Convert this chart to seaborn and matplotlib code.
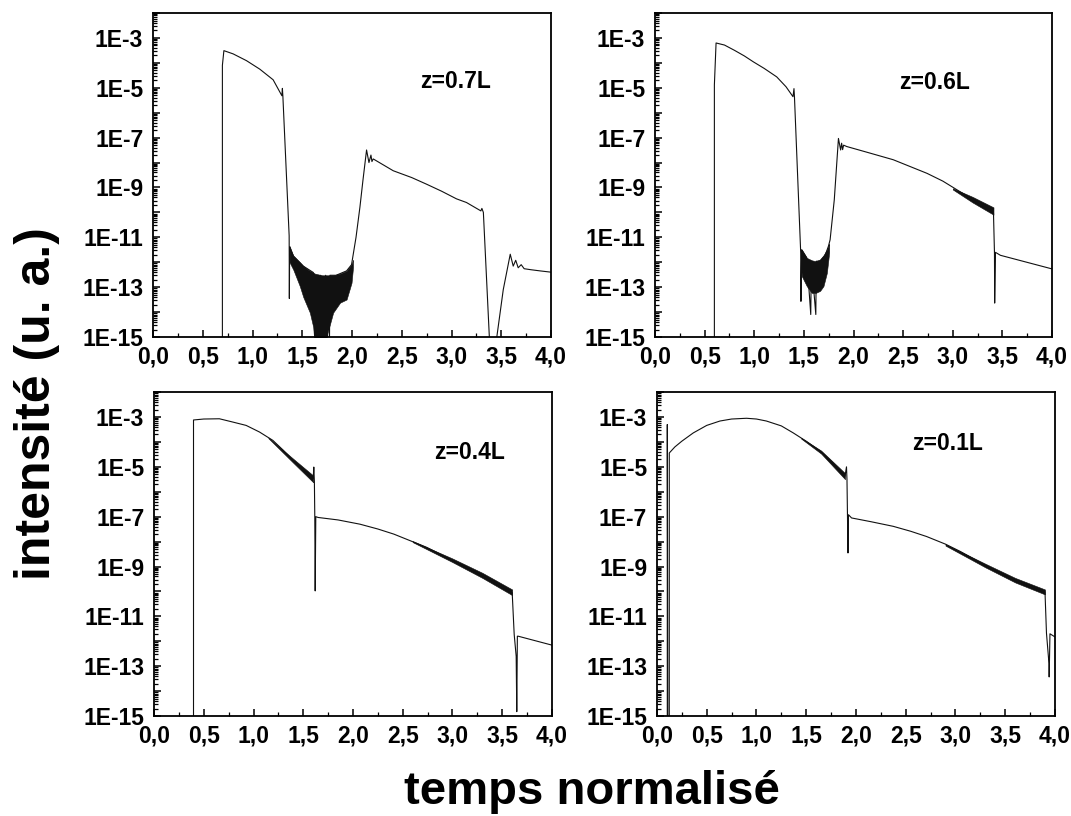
import numpy as np
import matplotlib
matplotlib.use("Agg")
import matplotlib.pyplot as plt
import seaborn as sns
from matplotlib.ticker import FixedLocator, LogLocator, NullFormatter

# ---------------- data ----------------
panel_labels = ["z=0.7L", "z=0.6L", "z=0.4L", "z=0.1L"]

# z = 0.7L
tA = [0.697, 0.697, 0.712, 0.805, 0.939, 1.073, 1.207, 1.295, 1.300, 1.305,
      1.368, 1.370, 1.373, 1.41, 1.51, 1.61, 1.636, 1.645, 1.676, 1.685,
      1.727, 1.735, 1.770, 1.778, 1.84, 1.945, 1.995, 2.04, 2.079, 2.11,
      2.146, 2.17, 2.19, 2.20, 2.213, 2.414, 2.6, 2.75, 2.9, 3.05,
      3.15, 3.295, 3.305, 3.32, 3.38, 3.42, 3.455, 3.52, 3.59, 3.62,
      3.645, 3.67, 3.70, 3.73, 3.80, 3.89, 4.0]
IA = [1e-17, 8e-5, 3.1e-4, 2.3e-4, 1.23e-4, 5.6e-5, 2.1e-5, 4.8e-6, 9.5e-6, 4.5e-6,
      1.15e-11, 3.5e-14, 4e-12, 1.8e-12, 7e-13, 3.9e-13, 1e-17, 3e-13, 1e-17, 3e-13,
      1e-17, 3e-13, 1e-17, 3e-13, 3e-13, 4.5e-13, 8e-13, 1e-11, 1.6e-10, 2e-9,
      3.2e-8, 1.0e-8, 2.0e-8, 1.1e-8, 1.4e-8, 4.7e-9, 2.5e-9, 1.35e-9, 7.1e-10, 3.5e-10,
      2.5e-10, 1.15e-10, 1.45e-10, 1.0e-10, 1e-15, 1e-17, 1e-15, 8e-14, 2.1e-12, 7e-13,
      1.2e-12, 6e-13, 8e-13, 5.5e-13, 5e-13, 4.5e-13, 4e-13]
bandA_t = [1.372, 1.41, 1.475, 1.51, 1.576, 1.61, 1.626, 1.70, 1.743, 1.81, 1.88, 1.945, 1.995, 2.01]
bandA_hi = [4.5e-12, 1.8e-12, 1.0e-12, 7.1e-13, 4.5e-13, 3.9e-13, 3.5e-13, 3.0e-13, 3.0e-13, 3.0e-13,
            3.5e-13, 4.5e-13, 8.3e-13, 1.26e-12]
bandA_lo = [1.0e-12, 5.0e-13, 1.1e-13, 4.0e-14, 9.5e-15, 2.5e-15, 3e-16, 3e-16, 1e-15, 9.5e-15,
            2.4e-14, 3.2e-14, 1.5e-13, 6.3e-13]

# z = 0.6L
tB = [0.598, 0.598, 0.615, 0.70, 0.80, 0.90, 0.991, 1.10, 1.226, 1.32,
      1.39, 1.40, 1.405, 1.468, 1.470, 1.478, 1.529, 1.569, 1.575, 1.620,
      1.625, 1.663, 1.714, 1.747, 1.764, 1.806, 1.848, 1.87, 1.88, 1.89,
      1.90, 1.932, 2.15, 2.40, 2.74, 2.9, 3.07, 3.25, 3.41, 3.42,
      3.422, 3.43, 3.48, 4.0]
IB = [1e-17, 1.3e-5, 6.3e-4, 5.2e-4, 3.2e-4, 1.9e-4, 1.1e-4, 6e-5, 2.75e-5, 1.1e-5,
      4.4e-6, 9.3e-6, 4.2e-6, 2.3e-12, 2.7e-14, 3.2e-12, 1.5e-12, 8e-15, 1.1e-12, 8e-15,
      1.1e-12, 1.1e-12, 1.9e-12, 4.4e-12, 8e-12, 3.2e-10, 9.3e-8, 3.2e-8, 6e-8, 3.3e-8,
      5e-8, 4.4e-8, 2.5e-8, 1.3e-8, 3.7e-9, 1.8e-9, 6.9e-10, 2.5e-10, 9.3e-11, 2.3e-12,
      2.3e-14, 2.5e-12, 1.9e-12, 5.4e-13]
bandB1_t = [1.47, 1.478, 1.529, 1.579, 1.62, 1.663, 1.697, 1.731, 1.755]
bandB1_hi = [2.5e-12, 3.2e-12, 1.5e-12, 1.2e-12, 1.1e-12, 1.3e-12, 1.9e-12, 3.2e-12, 5.6e-12]
bandB1_lo = [1.0e-12, 2.8e-13, 1.1e-13, 5.9e-14, 5.9e-14, 7.1e-14, 1.1e-13, 3.7e-13, 2.5e-12]
bandB2_t = [3.0, 3.2, 3.41]
bandB2_hi = [9.3e-10, 4.2e-10, 1.6e-10]
bandB2_lo = [8.3e-10, 2.5e-10, 8.1e-11]

# z = 0.4L
tC = [0.397, 0.397, 0.50, 0.657, 0.79, 0.926, 1.06, 1.195, 1.30, 1.397,
      1.50, 1.60, 1.606, 1.612, 1.616, 1.620, 1.626, 1.65, 1.85, 2.07,
      2.25, 2.41, 2.74, 2.9, 3.08, 3.25, 3.42, 3.60, 3.62, 3.64,
      3.646, 3.652, 3.66, 4.0]
IC = [1e-17, 7.6e-4, 8.3e-4, 8.5e-4, 6.3e-4, 4.6e-4, 2.5e-4, 1.15e-4, 4.6e-5, 1.8e-5,
      8.3e-6, 3.3e-6, 9.8e-6, 2.5e-6, 9.3e-8, 1.05e-10, 1.0e-7, 9.3e-8, 7.4e-8, 5e-8,
      3.2e-8, 2e-8, 5.9e-9, 2.8e-9, 1.23e-9, 5.9e-10, 2.6e-10, 8.9e-11, 1.9e-12, 2.5e-13,
      1.5e-15, 1.6e-12, 1.6e-12, 7e-13]
bandC1_t = [1.15, 1.4, 1.6]
bandC1_hi = [1.5e-4, 2.1e-5, 4.5e-6]
bandC1_lo = [1.4e-4, 1.45e-5, 2.4e-6]
bandC2_t = [2.6, 3.0, 3.3, 3.6]
bandC2_hi = [1.05e-8, 2.1e-9, 5.6e-10, 1.2e-10]
bandC2_lo = [9.5e-9, 1.5e-9, 3.5e-10, 7.1e-11]

# z = 0.1L
tD = [0.104, 0.104, 0.11, 0.124, 0.124, 0.18, 0.25, 0.365, 0.5, 0.633,
      0.75, 0.90, 1.0, 1.10, 1.25, 1.37, 1.5, 1.64, 1.77, 1.89,
      1.905, 1.91, 1.915, 1.92, 1.925, 1.956, 2.15, 2.375, 2.55, 2.71,
      2.9, 3.05, 3.2, 3.38, 3.55, 3.715, 3.90, 3.915, 3.94, 3.942,
      3.95, 4.0]
ID = [1e-17, 5e-4, 1e-17, 1e-17, 3.6e-5, 6.3e-5, 1.07e-4, 2.3e-4, 4.6e-4, 6.9e-4,
      8.3e-4, 8.9e-4, 8.3e-4, 6.9e-4, 4.4e-4, 2.3e-4, 1.07e-4, 4.3e-5, 1.45e-5, 4.2e-6,
      1e-5, 3e-6, 1e-7, 3.5e-9, 1.2e-7, 8.9e-8, 6.3e-8, 4.1e-8, 2.6e-8, 1.6e-8,
      7.9e-9, 4e-9, 1.86e-9, 7.4e-10, 3.5e-10, 1.8e-10, 9.8e-11, 2.1e-12, 1.3e-13, 3.7e-14,
      2e-12, 1.5e-12]
bandD1_t = [1.45, 1.65, 1.89]
bandD1_hi = [1.45e-4, 4.5e-5, 5.6e-6]
bandD1_lo = [1.35e-4, 3.4e-5, 3.2e-6]
bandD2_t = [2.9, 3.3, 3.6, 3.9]
bandD2_hi = [7.9e-9, 1.3e-9, 3.5e-10, 1.2e-10]
bandD2_lo = [6.9e-9, 9.3e-10, 2.3e-10, 7.6e-11]

x_tick_vals = [0.0, 0.5, 1.0, 1.5, 2.0, 2.5, 3.0, 3.5, 4.0]
x_tick_labels = ["0,0", "0,5", "1,0", "1,5", "2,0", "2,5", "3,0", "3,5", "4,0"]
y_tick_vals = [1e-15, 1e-14, 1e-13, 1e-12, 1e-11, 1e-10, 1e-9, 1e-8, 1e-7,
               1e-6, 1e-5, 1e-4, 1e-3, 1e-2]
y_tick_labels = ["1E-15", "", "1E-13", "", "1E-11", "", "1E-9", "", "1E-7",
                 "", "1E-5", "", "1E-3", ""]

x_label = "temps normalisé"
y_label = "intensité (u. a.)"

# ---------------- styling ----------------
sns.set_style("ticks")
plt.rcParams["font.family"] = ["Liberation Sans", "DejaVu Sans"]
plt.rcParams["font.weight"] = "bold"
plt.rcParams["text.color"] = "black"
plt.rcParams["xtick.color"] = "black"
plt.rcParams["ytick.color"] = "black"
plt.rcParams["axes.labelcolor"] = "black"

fig = plt.figure(figsize=(10.71, 8.16), dpi=100)

positions = [
    [0.1429, 0.587, 0.3716, 0.397],
    [0.6116, 0.587, 0.3707, 0.397],
    [0.1438, 0.1225, 0.3716, 0.397],
    [0.6134, 0.1225, 0.3716, 0.397],
]
label_pos = [(0.671, 0.79), (0.615, 0.787), (0.703, 0.815), (0.64, 0.84)]

curves = [(tA, IA), (tB, IB), (tC, IC), (tD, ID)]
bands = [
    [(bandA_t, bandA_lo, bandA_hi)],
    [(bandB1_t, bandB1_lo, bandB1_hi), (bandB2_t, bandB2_lo, bandB2_hi)],
    [(bandC1_t, bandC1_lo, bandC1_hi), (bandC2_t, bandC2_lo, bandC2_hi)],
    [(bandD1_t, bandD1_lo, bandD1_hi), (bandD2_t, bandD2_lo, bandD2_hi)],
]

for i in range(4):
    ax = fig.add_axes(positions[i])
    ax.set_yscale("log")
    t, I = curves[i]
    sns.lineplot(x=t, y=I, ax=ax, sort=False, estimator=None,
                 color="#111111", linewidth=0.8)
    for bt, blo, bhi in bands[i]:
        ax.fill_between(bt, blo, bhi, color="#111111", linewidth=0.4)
    ax.set_xlim(0, 4)
    ax.set_ylim(1e-15, 1e-2)
    ax.xaxis.set_major_locator(FixedLocator(x_tick_vals))
    ax.set_xticklabels(x_tick_labels)
    ax.xaxis.set_minor_locator(FixedLocator([0.25, 0.75, 1.25, 1.75, 2.25, 2.75, 3.25, 3.75]))
    ax.yaxis.set_major_locator(FixedLocator(y_tick_vals))
    ax.set_yticklabels(y_tick_labels)
    ax.yaxis.set_minor_locator(LogLocator(base=10, subs=np.arange(2, 10), numticks=100))
    ax.yaxis.set_minor_formatter(NullFormatter())
    ax.tick_params(axis="x", which="major", pad=6)
    ax.tick_params(axis="y", which="major", pad=7)
    ax.tick_params(axis="both", which="major", direction="in", length=5, width=1.1,
                   labelsize=16.5, top=False, right=False, colors="black")
    ax.tick_params(axis="both", which="minor", direction="in", length=2.8, width=0.9,
                   top=False, right=False, colors="black")
    for lab in ax.get_xticklabels() + ax.get_yticklabels():
        lab.set_fontweight("bold")
    for s in ax.spines.values():
        s.set_visible(True)
        s.set_linewidth(1.3)
        s.set_color("black")
    ax.set_xlabel("")
    ax.set_ylabel("")
    ax.text(label_pos[i][0], label_pos[i][1], panel_labels[i], transform=ax.transAxes,
            fontsize=16.5, fontweight="bold", ha="left", va="center", color="black")

fig.text(0.553, 0.03, x_label, ha="center", va="center", fontsize=34,
         fontweight="bold", color="black")
fig.text(0.035, 0.506, y_label, ha="center", va="center", rotation=90,
         fontsize=36, fontweight="bold", color="black")

fig.savefig("out.png", dpi=100)
